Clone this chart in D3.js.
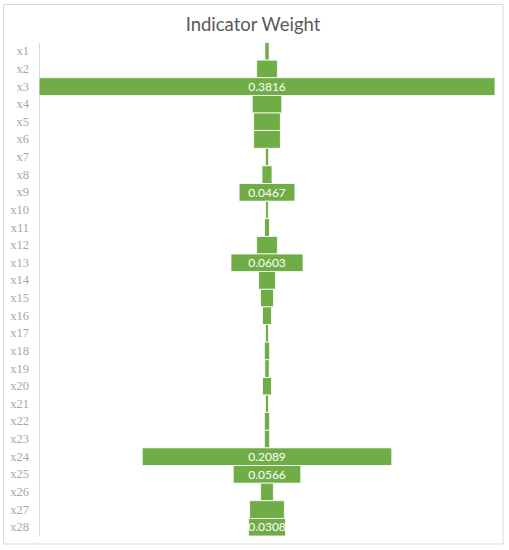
<!DOCTYPE html>
<html>
<head>
<meta charset="utf-8">
<script src="https://cdn.jsdelivr.net/npm/d3@7"></script>
<style>
  body { margin: 0; background: #fff; }
</style>
</head>
<body>
<div id="chart"></div>
<script>
// indicator names and weights
var categories = ['x1', 'x2', 'x3', 'x4', 'x5', 'x6', 'x7', 'x8', 'x9', 'x10',
  'x11', 'x12', 'x13', 'x14', 'x15', 'x16', 'x17', 'x18', 'x19', 'x20',
  'x21', 'x22', 'x23', 'x24', 'x25', 'x26', 'x27', 'x28'];
var weights = [0.0036, 0.0173, 0.3816, 0.0248, 0.0223, 0.0223, 0.0028, 0.0084, 0.0467, 0.0022,
  0.0042, 0.0173, 0.0603, 0.014, 0.0109, 0.0075, 0.0027, 0.0045, 0.0036, 0.0075,
  0.0025, 0.0045, 0.0045, 0.2089, 0.0566, 0.0106, 0.029, 0.0308];
// only these bars carry a value label in the original
var labelled = ['x3', 'x9', 'x13', 'x24', 'x25', 'x28'];

var chart_width = 509;
var chart_height = 550;

var data = categories.map((c, i) => ({ name: c, value: weights[i] }));

var svg = d3.select('#chart')
  .append('svg')
  .attr('width', chart_width)
  .attr('height', chart_height);

// outer chart frame
svg.append('rect')
  .attr('x', 3.5)
  .attr('y', 4.5)
  .attr('width', 499.5)
  .attr('height', 539.5)
  .attr('fill', '#fff')
  .attr('stroke', '#d9d9d9');

svg.append('text')
  .text('Indicator Weight')
  .attr('x', 253)
  .attr('y', 31)
  .attr('text-anchor', 'middle')
  .attr('font-family', 'Lato, sans-serif')
  .attr('font-size', 18.5)
  .attr('fill', '#595959');

// plot area
var plot_left = 39;
var plot_right = 495;
var center = (plot_left + plot_right) / 2;

var y_scale = d3.scaleBand()
  .domain(categories)
  .range([42.5, 536])
  .padding(0);

var w_scale = d3.scaleLinear()
  .domain([0, d3.max(weights)])
  .range([0, plot_right - plot_left]);

// category axis
var y_axis = d3.axisLeft(y_scale).tickSize(0).tickPadding(10);
var axis_g = svg.append('g')
  .attr('transform', 'translate(' + plot_left + ',0)')
  .call(y_axis);
axis_g.attr('font-family', null);
axis_g.select('.domain').attr('stroke', '#d9d9d9');
axis_g.selectAll('text')
  .style('font-family', '"Liberation Serif", "DejaVu Serif", serif')
  .style('font-size', '12.5px')
  .attr('fill', '#a6a6a6');

// funnel bars, centred in the plot area
svg.selectAll('rect.bar')
  .data(data)
  .enter()
  .append('rect')
  .attr('class', 'bar')
  .attr('x', (d) => center - w_scale(d.value) / 2)
  .attr('y', (d) => y_scale(d.name))
  .attr('width', (d) => w_scale(d.value))
  .attr('height', y_scale.bandwidth())
  .attr('fill', '#70ad47')
  .attr('stroke', '#fff')
  .attr('stroke-width', 0.8);

svg.selectAll('text.label')
  .data(data.filter((d) => labelled.includes(d.name)))
  .enter()
  .append('text')
  .attr('class', 'label')
  .text((d) => d.value.toFixed(4))
  .attr('x', center)
  .attr('y', (d) => y_scale(d.name) + y_scale.bandwidth() / 2)
  .attr('dy', '0.35em')
  .attr('text-anchor', 'middle')
  .attr('font-family', 'Lato, sans-serif')
  .attr('font-size', 12)
  .attr('fill', '#fff');
</script>
</body>
</html>
